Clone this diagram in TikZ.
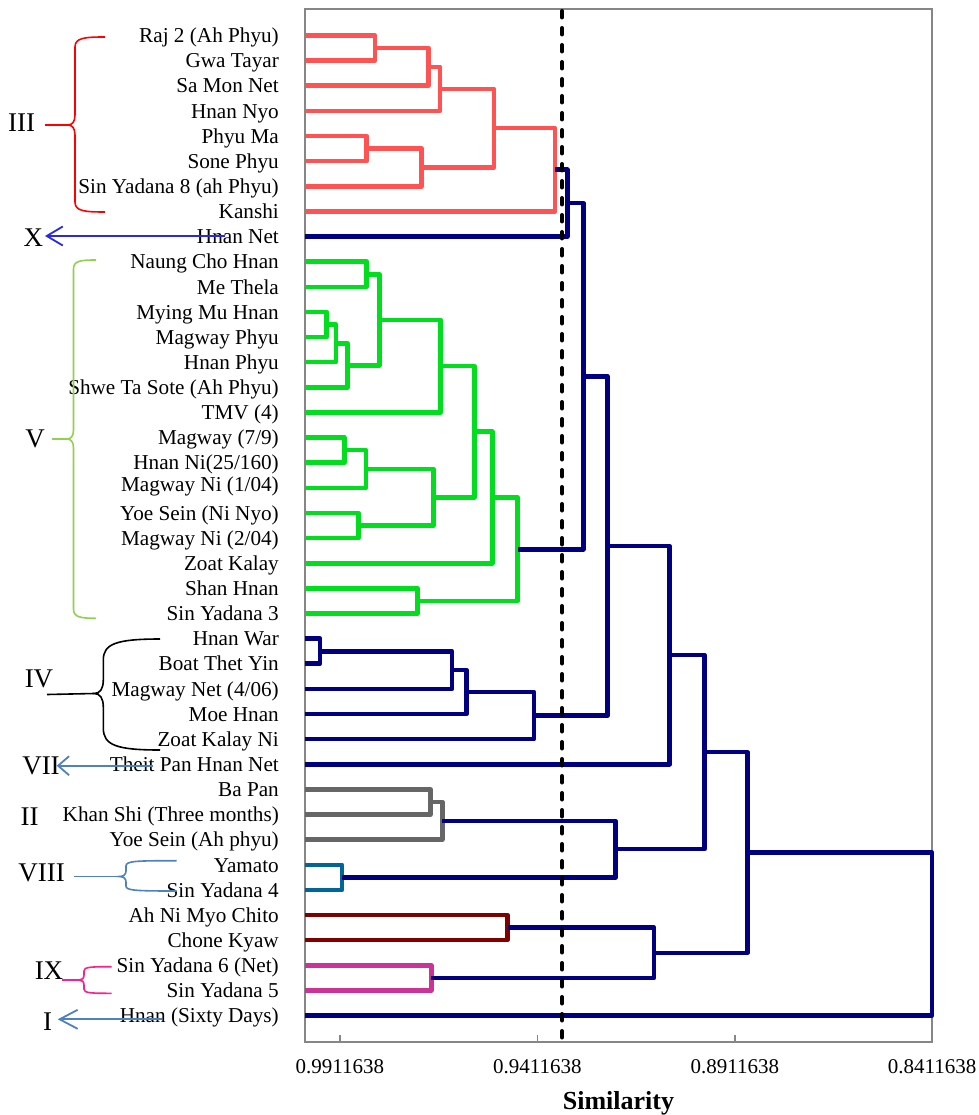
\documentclass[tikz,border=0pt]{standalone}
\usepackage{fontspec}
\setmainfont{Liberation Serif}
\usetikzlibrary{arrows.meta}
\definecolor{cRed}{RGB}{255,82,82}
\definecolor{cGreen}{RGB}{0,222,30}
\definecolor{cNavy}{RGB}{0,0,128}
\definecolor{cGrey}{RGB}{102,102,102}
\definecolor{cTeal}{RGB}{0,102,153}
\definecolor{cMaroon}{RGB}{128,0,0}
\definecolor{cMag}{RGB}{204,51,153}
\definecolor{cFrame}{RGB}{134,134,134}
\definecolor{bRed}{RGB}{255,0,0}
\definecolor{bGreen}{RGB}{146,208,80}
\definecolor{bSteel}{RGB}{79,129,189}
\definecolor{bPink}{RGB}{255,30,140}
\definecolor{bBlue}{RGB}{40,40,230}
\begin{document}
\begin{tikzpicture}[x=1pt,y=-1pt,
  lab/.style={anchor=base east,inner sep=0pt,font=\fontsize{21.2}{25}\selectfont},
  num/.style={inner sep=0pt,font=\fontsize{27}{30}\selectfont},
  tick/.style={anchor=base,inner sep=0pt,font=\fontsize{21}{25}\selectfont},
  br/.style={line width=4.6pt,line join=round},
  dR/.style={br,draw=cRed},
  dG/.style={br,draw=cGreen},
  dN/.style={br,draw=cNavy},
  dGy/.style={br,draw=cGrey},
  dT/.style={br,draw=cTeal},
  dM/.style={br,draw=cMaroon},
  dP/.style={br,draw=cMag},
  frame/.style={draw=cFrame,line width=1.2pt},
  brace/.style={line width=1.6pt},
  annarrow/.style={line width=1.8pt}
]
\useasboundingbox (0,0) rectangle (978,1115);
\fill[white] (0,0) rectangle (978,1115);

% frame and axis
\draw[frame] (305,1042) -- (305,9) -- (932,9) -- (932,1042) -- cycle;
\foreach \x in {339.9,537.4,734.9,932} \draw[frame] (\x,1042) -- (\x,1035);
\node[tick] (a1) at (339.9,1073) {0.9911638};
\node[tick] (a2) at (537.4,1073) {0.9411638};
\node[tick] (a3) at (734.9,1073) {0.8911638};
\node[tick] (a4) at (932,1073) {0.8411638};
\node[anchor=base,inner sep=0pt,font=\bfseries\fontsize{26}{30}\selectfont] (sim) at (618.5,1109) {Similarity};

% leaves
\foreach \i in {1,...,40} \coordinate (r\i) at (305,{35.5+(\i-1)*25.13});

\path (r1) ++(-26,7.2) node[lab] (t1) {Raj 2 (Ah Phyu)};
\path (r2) ++(-26,7.2) node[lab] (t2) {Gwa Tayar};
\path (r3) ++(-26,7.2) node[lab] (t3) {Sa Mon Net};
\path (r4) ++(-26,7.2) node[lab] (t4) {Hnan Nyo};
\path (r5) ++(-26,7.2) node[lab] (t5) {Phyu Ma};
\path (r6) ++(-26,7.2) node[lab] (t6) {Sone Phyu};
\path (r7) ++(-26,7.2) node[lab] (t7) {Sin Yadana 8 (ah Phyu)};
\path (r8) ++(-26,7.2) node[lab] (t8) {Kanshi};
\path (r9) ++(-26,7.2) node[lab] (t9) {Hnan Net};
\path (r10) ++(-26,7.2) node[lab] (t10) {Naung Cho Hnan};
\path (r11) ++(-26,7.2) node[lab] (t11) {Me Thela};
\path (r12) ++(-26,7.2) node[lab] (t12) {Mying Mu Hnan};
\path (r13) ++(-26,7.2) node[lab] (t13) {Magway Phyu};
\path (r14) ++(-26,7.2) node[lab] (t14) {Hnan Phyu};
\path (r15) ++(-26,7.2) node[lab] (t15) {Shwe Ta Sote (Ah Phyu)};
\path (r16) ++(-26,7.2) node[lab] (t16) {TMV (4)};
\path (r17) ++(-26,7.2) node[lab] (t17) {Magway (7/9)};
\path (r18) ++(-26,7.2) node[lab] (t18) {Hnan Ni(25/160)};
\path (r19) ++(-26,3.2) node[lab] (t19) {Magway Ni (1/04)};
\path (r20) ++(-26,7.2) node[lab] (t20) {Yoe Sein (Ni Nyo)};
\path (r21) ++(-26,7.2) node[lab] (t21) {Magway Ni (2/04)};
\path (r22) ++(-26,7.2) node[lab] (t22) {Zoat Kalay};
\path (r23) ++(-26,7.2) node[lab] (t23) {Shan Hnan};
\path (r24) ++(-26,7.2) node[lab] (t24) {Sin Yadana 3};
\path (r25) ++(-26,7.2) node[lab] (t25) {Hnan War};
\path (r26) ++(-26,7.2) node[lab] (t26) {Boat Thet Yin};
\path (r27) ++(-26,7.2) node[lab] (t27) {Magway Net (4/06)};
\path (r28) ++(-26,7.2) node[lab] (t28) {Moe Hnan};
\path (r29) ++(-26,7.2) node[lab] (t29) {Zoat Kalay Ni};
\path (r30) ++(-26,7.2) node[lab] (t30) {Theit Pan Hnan Net};
\path (r31) ++(-26,7.2) node[lab] (t31) {Ba Pan};
\path (r32) ++(-26,7.2) node[lab] (t32) {Khan Shi (Three months)};
\path (r33) ++(-26,7.2) node[lab] (t33) {Yoe Sein (Ah phyu)};
\path (r34) ++(-26,7.2) node[lab] (t34) {Yamato};
\path (r35) ++(-26,7.2) node[lab] (t35) {Sin Yadana 4};
\path (r36) ++(-26,7.2) node[lab] (t36) {Ah Ni Myo Chito};
\path (r37) ++(-26,7.2) node[lab] (t37) {Chone Kyaw};
\path (r38) ++(-26,7.2) node[lab] (t38) {Sin Yadana 6 (Net)};
\path (r39) ++(-26,7.2) node[lab] (t39) {Sin Yadana 5};
\path (r40) ++(-26,7.2) node[lab] (t40) {Hnan (Sixty Days)};

% merge points
\coordinate (m1) at (375,48.05);
\coordinate (m2) at (428.3,66.9);
\coordinate (m3) at (440,88.9);
\coordinate (m4) at (366.7,148.6);
\coordinate (m5) at (421.7,167.45);
\coordinate (m6) at (494,128.2);
\coordinate (m7) at (555,169.8);
\coordinate (m8) at (567.3,203.15);
\coordinate (g1) at (366.7,274.25);
\coordinate (g2) at (326.7,324.5);
\coordinate (g3) at (336,343.35);
\coordinate (g4) at (347.7,365.3);
\coordinate (g5) at (379.3,319.8);
\coordinate (g6) at (440.7,366.15);
\coordinate (g7) at (344.3,450.15);
\coordinate (g8) at (366,468.98);
\coordinate (g9) at (358.3,525.55);
\coordinate (g10) at (433.3,497.26);
\coordinate (g11) at (474.3,431.7);
\coordinate (g12) at (492.3,497.45);
\coordinate (g13) at (417.7,600.95);
\coordinate (g14) at (517.7,549.2);
\coordinate (m9) at (583.3,376.2);
\coordinate (k1) at (320,651.2);
\coordinate (k2) at (451.9,670.05);
\coordinate (k3) at (466.4,692.0);
\coordinate (k4) at (534,715.6);
\coordinate (m10) at (607.6,545.9);
\coordinate (m11) at (669.5,655.1);
\coordinate (q1) at (430.3,802);
\coordinate (q2) at (442.2,820.85);
\coordinate (t1c) at (342,877.4);
\coordinate (m12) at (615.5,849.1);
\coordinate (m13) at (704.6,752.1);
\coordinate (d1) at (507.5,927.65);
\coordinate (p1) at (431.2,977.95);
\coordinate (m14) at (654,952.8);
\coordinate (m15) at (747.4,852.45);
\coordinate (m16) at (932,934);

% red cluster
\draw[dR] (r1) -| (m1) |- (r2);
\draw[dR] (m1) -| (m2) |- (r3);
\draw[dR] (m2) -| (m3) |- (r4);
\draw[dR] (r5) -| (m4) |- (r6);
\draw[dR] (m4) -| (m5) |- (r7);
\draw[dR] (m3) -| (m6) |- (m5);
\draw[dR] (m6) -| (m7) |- (r8);
\draw[dN] (m7) -| (m8) |- (r9);
% green cluster
\draw[dG] (r10) -| (g1) |- (r11);
\draw[dG] (r12) -| (g2) |- (r13);
\draw[dG] (g2) -| (g3) |- (r14);
\draw[dG] (g3) -| (g4) |- (r15);
\draw[dG] (g1) -| (g5) |- (g4);
\draw[dG] (g5) -| (g6) |- (r16);
\draw[dG] (r17) -| (g7) |- (r18);
\draw[dG] (g7) -| (g8) |- (r19);
\draw[dG] (r20) -| (g9) |- (r21);
\draw[dG] (g8) -| (g10) |- (g9);
\draw[dG] (g6) -| (g11) |- (g10);
\draw[dG] (g11) -| (g12) |- (r22);
\draw[dG] (r23) -| (g13) |- (r24);
\draw[dG] (g12) -| (g14) |- (g13);
\draw[dN] (m8) -| (m9) |- (g14);
% IV cluster
\draw[dN] (r25) -| (k1) |- (r26);
\draw[dN] (k1) -| (k2) |- (r27);
\draw[dN] (k2) -| (k3) |- (r28);
\draw[dN] (k3) -| (k4) |- (r29);
\draw[dN] (m9) -| (m10) |- (k4);
\draw[dN] (m10) -| (m11) |- (r30);
% grey / teal
\draw[dGy] (r31) -| (q1) |- (r32);
\draw[dGy] (q1) -| (q2) |- (r33);
\draw[dT] (r34) -| (t1c) |- (r35);
\draw[dN] (q2) -| (m12) |- (t1c);
\draw[dN] (m11) -| (m13) |- (m12);
% maroon / magenta
\draw[dM] (r36) -| (d1) |- (r37);
\draw[dP] (r38) -| (p1) |- (r39);
\draw[dN] (d1) -| (m14) |- (p1);
\draw[dN] (m13) -| (m15) |- (m14);
\draw[dN] (m15) -| (m16) |- (r40);

% cut line
\draw[black,line width=4pt,line cap=round,dash pattern=on 6.5pt off 10.5pt] (562,11) -- (562,1040);

% annotations
\node[num] (nIII) at (21.7,122.3) {III};
\node[num] (nX) at (33.3,237.3) {X};
\node[num] (nV) at (35,439) {V};
\node[num] (nIV) at (39,679.3) {IV};
\node[num] (nVII) at (41,766) {VII};
\node[num] (nII) at (29.7,816.7) {II};
\node[num] (nVIII) at (41.7,873.3) {VIII};
\node[num] (nIX) at (49,971) {IX};
\node[num] (nI) at (47.5,1022) {I};

% III brace
\coordinate (bIIIs) at (45,125);
\coordinate (bIIIt) at (68,125);
\draw[brace,bRed] (105,37) .. controls (84,37) and (75,38) .. (75,47) -- (75,115)
  .. controls (75,122) and (72,125) .. (bIIIt) .. controls (72,125) and (75,128) .. (75,135)
  -- (75,202) .. controls (75,211) and (84,212) .. (105,212);
\draw[brace,bRed] (bIIIs) -- (bIIIt);
% V brace
\coordinate (bVs) at (52,439);
\coordinate (bVt) at (67,439);
\draw[brace,bGreen] (96,260) .. controls (80,260) and (73.5,261) .. (73.5,269) -- (73.5,430)
  .. controls (73.5,436) and (71,439) .. (bVt) .. controls (71,439) and (73.5,442) .. (73.5,448)
  -- (73.5,609) .. controls (73.5,617) and (80,618.3) .. (96,618.3);
\draw[brace,bGreen] (bVs) -- (bVt);
% IV brace
\coordinate (bIVs) at (47,694.5);
\coordinate (bIVt) at (94,693.5);
\draw[brace,black] (160,639) .. controls (116,639) and (103.3,644) .. (103.3,660) -- (103.3,680)
  .. controls (103.3,689) and (100,693.5) .. (bIVt) .. controls (100,693.5) and (103.3,698) .. (103.3,707)
  -- (103.3,728) .. controls (103.3,745) and (116,750) .. (160,750);
\draw[brace,black] (bIVs) -- (bIVt);
% VIII brace
\coordinate (bVIIIs) at (74,876.5);
\coordinate (bVIIIt) at (119,876.5);
\draw[brace,bSteel] (176.7,860.7) .. controls (135,860.7) and (126,861) .. (126,866) -- (126,871)
  .. controls (126,875) and (123,876.5) .. (bVIIIt) .. controls (123,876.5) and (126,878) .. (126,882)
  -- (126,886) .. controls (126,890.5) and (135,891) .. (176.7,891);
\draw[brace,bSteel] (bVIIIs) -- (bVIIIt);
% IX brace
\coordinate (bIXs) at (61.7,980);
\coordinate (bIXt) at (79,980);
\draw[brace,bPink] (111.7,966.7) .. controls (90,966.7) and (84,967) .. (84,971) -- (84,975)
  .. controls (84,978.5) and (82,980) .. (bIXt) .. controls (82,980) and (84,981.5) .. (84,985)
  -- (84,989) .. controls (84,993) and (90,993.3) .. (111.7,993.3);
\draw[brace,bPink] (bIXs) -- (bIXt);

% arrows
\coordinate (aXs) at (225,236);
\coordinate (aXt) at (45,236);
\draw[annarrow,bBlue,-{Straight Barb[length=16pt,width=19pt]}] (aXs) -- (aXt);
\coordinate (aVIIs) at (153.3,765.7);
\coordinate (aVIIt) at (56.7,765.7);
\draw[annarrow,bSteel,-{Straight Barb[length=11pt,width=19pt]}] (aVIIs) -- (aVIIt);
\coordinate (aIs) at (162.3,1019.3);
\coordinate (aIt) at (57.7,1019.3);
\draw[annarrow,bSteel,-{Straight Barb[length=18pt,width=19pt]}] (aIs) -- (aIt);
\end{tikzpicture}
\end{document}
